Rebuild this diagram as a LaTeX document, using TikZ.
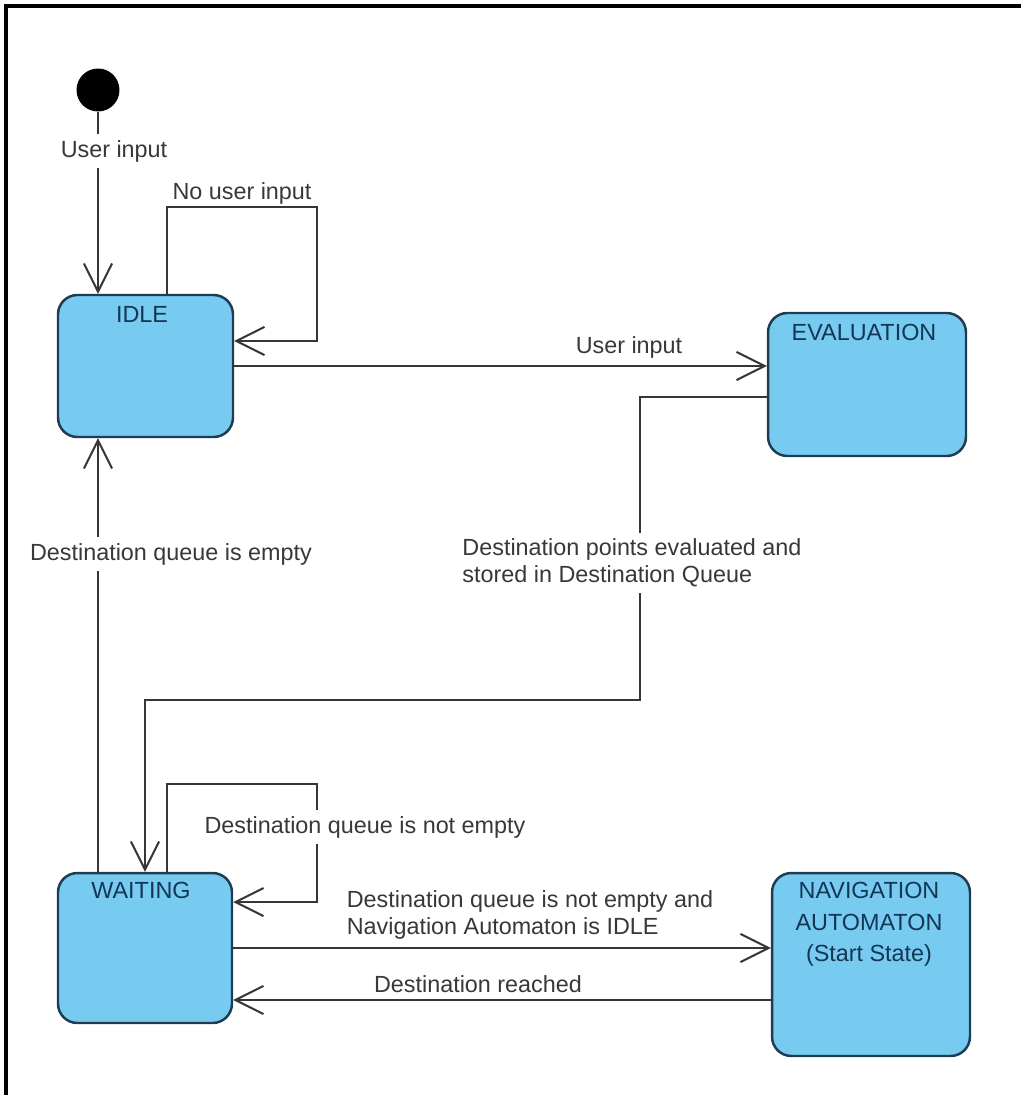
\documentclass[tikz,border=0pt]{standalone}
\usepackage{fontspec}
\setmainfont{Liberation Sans}
\usetikzlibrary{arrows.meta}
\definecolor{stfill}{HTML}{77CBF0}
\definecolor{stedge}{HTML}{1E3C52}
\definecolor{sttext}{HTML}{123654}
\definecolor{wirec}{HTML}{363636}
\begin{document}
\begin{tikzpicture}[x=0.02cm,y=-0.02cm,>={Straight Barb[length=16pt,width=16pt]},
	state/.style={draw=stedge,fill=stfill,line width=1.4pt,rounded corners=11pt,inner sep=0pt},
	stname/.style={text=sttext,font=\fontsize{13.3}{18}\selectfont,align=center,inner sep=0pt},
	wire/.style={draw=wirec,line width=1.15pt},
	lbl/.style={text=black!78,font=\fontsize{13.3}{15.3}\selectfont,inner sep=3.5pt,align=left}]
	\useasboundingbox (0,0) rectangle (1021,1095);
	\draw[line width=2pt] (6,1095)--(6,6)--(1021,6);
	
	\node[circle,fill=black,minimum size=0.86cm,inner sep=0pt] (start) at (98,90) {};
	\node[state,minimum width=3.5cm,minimum height=2.84cm] (idle) at (145.5,366) {};
	\node[state,minimum width=3.96cm,minimum height=2.86cm] (eval) at (867,384.5) {};
	\node[state,minimum width=3.48cm,minimum height=3cm] (waiting) at (145,948) {};
	\node[state,minimum width=3.96cm,minimum height=3.66cm] (nav) at (871,964.5) {};
	\node[stname,anchor=base] (idlename) at (142,322) {IDLE};
	\node[stname,anchor=base] (evalname) at (864,340) {EVALUATION};
	\node[stname,anchor=base] (waitname) at (141,898) {WAITING};
	\node[stname,anchor=north] (navname) at (869,882) {NAVIGATION\\AUTOMATON\\(Start State)};
	
	\draw[wire,->] (start)--(idle.north -| start);
	\node[lbl,fill=white,anchor=base] (uinput) at (114,157) {User input};
	
	\draw[wire,->] ([xshift=0.43cm]idle.north) |- (317,207) |- ([yshift=0.5cm]idle.east);
	\node[lbl,anchor=base] (nouser) at (242,199) {No user input};
	
	\draw[wire,->] (idle.east)--(eval.west |- idle.east);
	\node[lbl,anchor=base] (evinput) at (629,353) {User input};
	
	\draw[wire,->] ([yshift=-0.25cm]eval.west) -| (640,700) -| (waiting.north);
	\node[lbl,fill=white] (stored) at (632,563) {Destination points evaluated and\\stored in Destination Queue};
	
	\draw[wire,->] (waiting.north -| start)--(idle.south -| start);
	\node[lbl,fill=white,anchor=base] (qempty) at (171,560) {Destination queue is empty};
	
	\draw[wire,->] ([xshift=0.44cm]waiting.north) |- (317,784) |- ([yshift=0.92cm]waiting.east);
	\node[lbl,fill=white,anchor=base] (qnotempty) at (365,833) {Destination queue is not empty};
	
	\draw[wire,->] (waiting.east)--(nav.west |- waiting.east);
	\node[lbl] (navidle) at (530,915) {Destination queue is not empty and\\Navigation Automaton is IDLE};
	
	\coordinate (back) at ([yshift=-0.71cm]nav.west);
	\draw[wire,->] (back)--(back -| waiting.east);
	\node[lbl,anchor=base] (reached) at (478,992) {Destination reached};
\end{tikzpicture}
\end{document}
